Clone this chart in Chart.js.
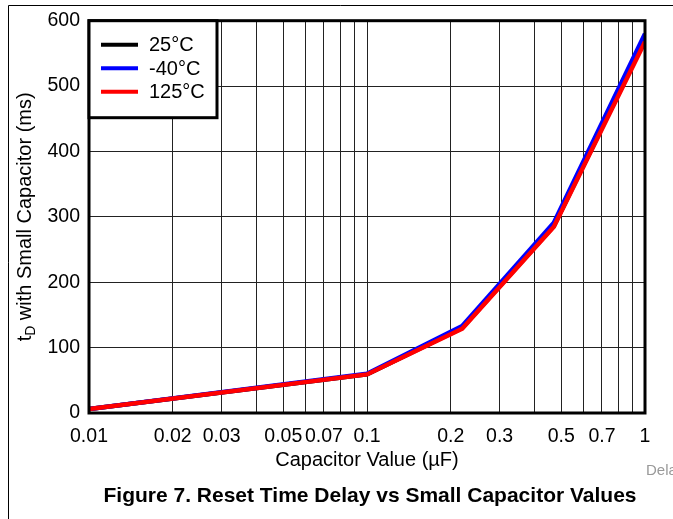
<!DOCTYPE html>
<html>
<head>
<meta charset="utf-8">
<title>Reset Time Delay vs Small Capacitor Values</title>
<script src="https://cdn.jsdelivr.net/npm/chart.js@4/dist/chart.umd.min.js"></script>
<style>
  html, body { margin: 0; padding: 0; background: #fff; }
  #wrap { position: relative; width: 673px; height: 519px; }
</style>
</head>
<body>
<div id="wrap"><canvas id="delayChart"></canvas></div>
<script>
// Data
const capValues = [0.01, 0.1, 0.22, 0.47, 1];          // µF
const delay25C = [6, 59, 130, 286, 571];               // ms
const delayMinus40C = [6, 60, 133, 291, 580];
const delay125C = [6, 59, 129, 285, 568];

const seriesLabels = ['25°C', '-40°C', '125°C'];
const seriesColors = ['#000000', '#0000ff', '#ff0000'];
const drawOrder = [2, 1, 0];   // red drawn on top, black underneath

// x grid lines (log minors) and which of them carry a label
const xGridValues = [0.01, 0.02, 0.03, 0.04, 0.05, 0.06, 0.07, 0.08, 0.09,
                     0.1, 0.2, 0.3, 0.4, 0.5, 0.6, 0.7, 0.8, 0.9, 1];
const xTickLabels = [0.01, 0.02, 0.03, 0.05, 0.07, 0.1, 0.2, 0.3, 0.5, 0.7, 1];
const yTicks = [0, 100, 200, 300, 400, 500, 600];

const FONT = 'Liberation Sans, Arial, Helvetica, sans-serif';

function toPoints(ys) {
  return capValues.map((x, i) => ({ x: x, y: ys[i] }));
}

// Frame, plot border, legend, axis titles and caption
const decorPlugin = {
  id: 'decor',
  beforeDraw(chart) {
    const ctx = chart.ctx;
    ctx.save();
    ctx.fillStyle = '#fff';
    ctx.fillRect(0, 0, chart.width, chart.height);
    // page frame
    ctx.strokeStyle = '#000';
    ctx.lineWidth = 1;
    ctx.beginPath();
    ctx.moveTo(8.5, chart.height);
    ctx.lineTo(8.5, 5.5);
    ctx.lineTo(chart.width, 5.5);
    ctx.stroke();
    ctx.restore();
  },
  afterDraw(chart) {
    const ctx = chart.ctx;
    const a = chart.chartArea;
    ctx.save();

    // plot border
    ctx.strokeStyle = '#000';
    ctx.lineWidth = 3;
    ctx.strokeRect(a.left, a.top, a.right - a.left, a.bottom - a.top);

    // legend box (entries in dataset order)
    const lx = a.left, ly = a.top, lw = 128, lh = 97;
    ctx.fillStyle = '#fff';
    ctx.fillRect(lx, ly, lw, lh);
    ctx.lineWidth = 3;
    ctx.strokeRect(lx, ly, lw, lh);
    ctx.font = '20px ' + FONT;
    ctx.textBaseline = 'middle';
    ctx.textAlign = 'left';
    chart.data.datasets.forEach((ds, i) => {
      const y = ly + 24 + i * 23.5;
      ctx.strokeStyle = ds.borderColor;
      ctx.lineWidth = 4;
      ctx.beginPath();
      ctx.moveTo(lx + 12, y);
      ctx.lineTo(lx + 49, y);
      ctx.stroke();
      ctx.fillStyle = '#000';
      ctx.fillText(ds.label, lx + 60, y + 1);
    });

    // y axis title with subscript
    ctx.fillStyle = '#000';
    ctx.translate(24, (a.top + a.bottom) / 2);
    ctx.rotate(-Math.PI / 2);
    const big = '20px ' + FONT, small = '14px ' + FONT;
    const rest = ' with Small Capacitor (ms)';
    ctx.font = big;
    const wT = ctx.measureText('t').width;
    const wR = ctx.measureText(rest).width;
    ctx.font = small;
    const wD = ctx.measureText('D').width;
    const x0 = -(wT + wD + wR) / 2;
    ctx.textBaseline = 'alphabetic';
    ctx.font = big;
    ctx.fillText('t', x0, 7);
    ctx.font = small;
    ctx.fillText('D', x0 + wT, 11);
    ctx.font = big;
    ctx.fillText(rest, x0 + wT + wD, 7);
    ctx.restore();

    ctx.save();
    ctx.fillStyle = '#000';
    ctx.textAlign = 'center';
    ctx.textBaseline = 'middle';
    ctx.font = '20px ' + FONT;
    ctx.fillText('Capacitor Value (µF)', (a.left + a.right) / 2, 460);

    ctx.font = 'bold 21px ' + FONT;
    ctx.fillText('Figure 7. Reset Time Delay vs Small Capacitor Values', 370, 496);

    ctx.fillStyle = '#999';
    ctx.textAlign = 'left';
    ctx.font = '15px ' + FONT;
    ctx.fillText('Dela', 646, 471);
    ctx.restore();
  }
};

new Chart(document.getElementById('delayChart'), {
  type: 'line',
  data: {
    datasets: [
      { label: seriesLabels[0], data: toPoints(delay25C), borderColor: seriesColors[0], order: drawOrder[0] },
      { label: seriesLabels[1], data: toPoints(delayMinus40C), borderColor: seriesColors[1], order: drawOrder[1] },
      { label: seriesLabels[2], data: toPoints(delay125C), borderColor: seriesColors[2], order: drawOrder[2] }
    ].map(ds => Object.assign(ds, {
      borderWidth: 4.5,
      pointRadius: 0,
      tension: 0,
      fill: false
    }))
  },
  options: {
    responsive: true,
    maintainAspectRatio: false,
    animation: false,
    layout: { padding: { left: 0, right: 28, top: 20, bottom: 56 } },
    plugins: {
      legend: { display: false },
      tooltip: { enabled: false }
    },
    scales: {
      x: {
        type: 'logarithmic',
        min: 0.01,
        max: 1,
        afterBuildTicks: scale => {
          scale.ticks = xGridValues.map(v => ({ value: v }));
        },
        afterFit: scale => { scale.height = 50; },
        ticks: {
          autoSkip: false,
          maxRotation: 0,
          minRotation: 0,
          padding: 12,
          color: '#000',
          font: { family: FONT, size: 19.5 },
          callback: value => xTickLabels.includes(value) ? String(value) : ''
        },
        grid: { color: '#222', lineWidth: 1, drawTicks: false },
        border: { display: false }
      },
      y: {
        min: 0,
        max: 600,
        afterBuildTicks: scale => {
          scale.ticks = yTicks.map(v => ({ value: v }));
        },
        afterFit: scale => { scale.width = 89; },
        ticks: {
          padding: 9,
          color: '#000',
          font: { family: FONT, size: 19.5 }
        },
        grid: { color: '#222', lineWidth: 1, drawTicks: false },
        border: { display: false }
      }
    }
  },
  plugins: [decorPlugin]
});
</script>
</body>
</html>
